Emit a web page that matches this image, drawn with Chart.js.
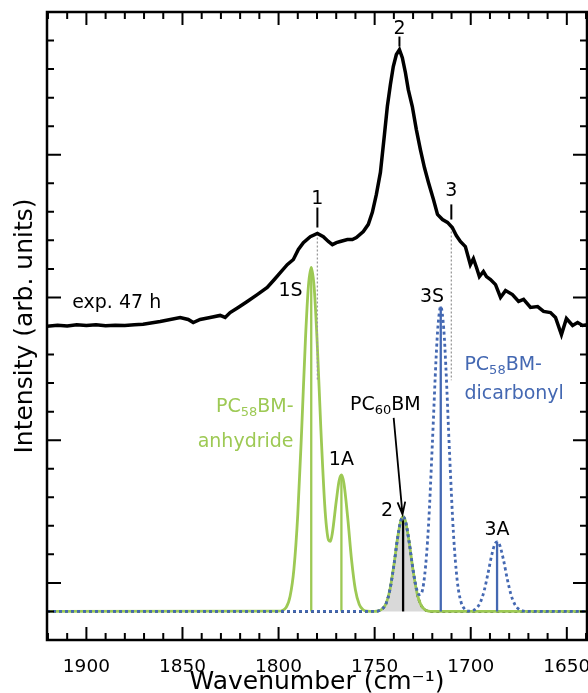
<!DOCTYPE html>
<html>
<head>
<meta charset="utf-8">
<script src="https://cdn.jsdelivr.net/npm/chart.js@4.4.0/dist/chart.umd.min.js"></script>
<style>
  body { margin: 0; background: #fff; }
</style>
</head>
<body>
<canvas id="myChart" width="588" height="693"></canvas>
<script>
// ---- data (wavenumber in cm-1, intensity in arb. units) ----
const xTickLabels = [1900, 1850, 1800, 1750, 1700, 1650];

// measured spectrum, exp. 47 h
const expWave = [1920.5, 1915, 1910, 1905, 1900, 1895, 1890, 1885, 1880, 1875, 1870.5, 1861.6, 1851.2, 1847, 1844.4, 1840.8, 1835.6, 1830.4, 1827.8, 1825.2, 1821, 1816.3, 1811.1, 1805.9, 1802.2, 1799.1, 1795.5, 1792.3, 1789.7, 1787.1, 1783.5, 1779.8, 1776.7, 1774.1, 1772.0, 1769.9, 1767.9, 1764.2, 1761.6, 1759.5, 1755.9, 1753.3, 1751.2, 1749.1, 1747.0, 1744.9, 1743.4, 1741.8, 1740.3, 1738.7, 1737.1, 1735.6, 1734.0, 1732.5, 1730.4, 1728.3, 1726.2, 1724.1, 1722.0, 1719.4, 1717.3, 1714.7, 1712.1, 1709.6, 1707.5, 1705.4, 1702.8, 1700.2, 1698.6, 1697.0, 1695.5, 1693.4, 1691.8, 1689.7, 1687.1, 1684.5, 1681.9, 1678.3, 1675.1, 1672.5, 1668.9, 1665.2, 1662.1, 1658.5, 1655.9, 1652.8, 1650.2, 1647.0, 1644.4, 1641.8, 1639.2];
const expInt = [9.99, 10.03, 10.0, 10.04, 10.02, 10.04, 10.01, 10.03, 10.02, 10.04, 10.06, 10.16, 10.30, 10.23, 10.12, 10.23, 10.30, 10.37, 10.30, 10.47, 10.65, 10.86, 11.10, 11.35, 11.63, 11.87, 12.15, 12.33, 12.68, 12.92, 13.13, 13.24, 13.13, 12.96, 12.85, 12.92, 12.96, 13.03, 13.03, 13.10, 13.31, 13.56, 13.98, 14.61, 15.38, 16.71, 17.69, 18.46, 19.09, 19.51, 19.68, 19.40, 18.88, 18.28, 17.69, 16.88, 16.18, 15.55, 15.03, 14.43, 13.91, 13.73, 13.63, 13.45, 13.17, 12.96, 12.78, 12.15, 12.36, 12.05, 11.73, 11.91, 11.73, 11.63, 11.45, 11.0, 11.24, 11.10, 10.86, 10.93, 10.65, 10.68, 10.51, 10.47, 10.30, 9.70, 10.26, 10.02, 10.12, 10.02, 10.05];

// PC58BM-anhydride model (green)
const anhWave = [1920.5, 1800, 1796, 1794, 1792, 1790, 1788, 1786, 1784.5, 1783, 1781.5, 1780, 1778, 1776, 1775, 1774, 1773, 1772, 1770, 1768.5, 1767.3, 1766, 1764, 1762, 1760, 1758, 1756, 1754, 1750, 1748, 1746, 1744, 1742, 1740, 1738, 1736.5, 1735.2, 1734, 1732, 1730, 1728, 1726, 1724, 1722, 1720, 1639];
const anhInt = [0, 0.01, 0.15, 0.53, 1.49, 3.40, 6.32, 9.55, 11.37, 12.05, 11.37, 9.57, 6.41, 3.75, 2.92, 2.50, 2.46, 2.75, 3.85, 4.58, 4.78, 4.49, 3.27, 1.80, 0.75, 0.24, 0.06, 0.01, 0, 0.02, 0.09, 0.29, 0.78, 1.62, 2.60, 3.15, 3.32, 3.17, 2.41, 1.43, 0.66, 0.24, 0.07, 0.01, 0, 0];
const anhStickWave = [1783, 1767.3];
const anhStickInt = [12.05, 4.76];

// PC58BM-dicarbonyl model (blue, dotted)
const dicWave = [1920.5, 1750, 1748, 1746, 1744, 1742, 1740, 1738, 1736.5, 1735.2, 1734, 1732, 1730, 1728, 1727, 1726, 1724, 1722, 1720, 1718, 1717, 1715.6, 1714, 1713, 1711, 1709, 1707, 1705, 1703, 1701, 1699, 1697, 1695, 1693, 1691, 1689, 1687.5, 1686.3, 1685, 1683, 1681, 1679, 1677, 1675, 1673, 1670, 1639];
const dicInt = [0, 0, 0.02, 0.09, 0.29, 0.78, 1.62, 2.60, 3.15, 3.32, 3.17, 2.41, 1.45, 0.75, 0.59, 0.60, 1.25, 2.98, 5.83, 8.92, 10.04, 10.68, 9.86, 8.65, 5.51, 2.74, 1.06, 0.32, 0.07, 0.01, 0.03, 0.11, 0.32, 0.73, 1.34, 2.00, 2.35, 2.44, 2.34, 1.82, 1.14, 0.58, 0.24, 0.08, 0.02, 0, 0];
const dicStickWave = [1715.6, 1686.3];
const dicStickInt = [10.68, 2.44];

// PC60BM (gray filled)
const pc60Wave = [1920.5, 1750, 1748, 1746, 1744, 1742, 1740, 1738, 1736.5, 1735.2, 1734, 1732, 1730, 1728, 1726, 1724, 1722, 1720, 1639];
const pc60Int = [0, 0, 0.02, 0.09, 0.29, 0.78, 1.62, 2.60, 3.15, 3.32, 3.17, 2.41, 1.43, 0.66, 0.24, 0.07, 0.01, 0, 0];
const pc60StickWave = [1735.2];
const pc60StickInt = [3.32];

// experimental band markers 1, 2, 3
const markText = ['1', '2', '3'];
const markWave = [1779.8, 1737.1, 1710.1];
const markLabelInt = [14.43, 20.41, 14.72];
const markTopInt = [14.15, 20.14, 14.26];
const markBottomInt = [13.45, 19.79, 13.73];
const guideWave = [1779.8, 1710.1];
const guideTopInt = [13.24, 13.45];
const guideBottomInt = [8.1, 8.1];

// peak labels
const annoText = ['1S', '3S', '1A', '2', '3A'];
const annoWave = [1793.8, 1720.1, 1767.3, 1743.6, 1686.3];
const annoInt = [11.24, 11.03, 5.32, 3.51, 2.85];

const GREEN = '#9dc954';
const BLUE = '#4468b2';
const FONT = 'DejaVu Sans';

function toPoints(xs, ys) {
    return xs.map((x, i) => ({x: x, y: ys[i]}));
}

// sticks: one segment from baseline to top for each peak, separated by gaps
function toSticks(xs, ys) {
    let pts = [];
    xs.forEach((x, i) => {
        pts.push({x: x, y: 0}, {x: x, y: ys[i]}, {x: x, y: null});
    });
    return pts;
}

function toSegments(xs, tops, bottoms) {
    let pts = [];
    xs.forEach((x, i) => {
        pts.push({x: x, y: tops[i]}, {x: x, y: bottoms[i]}, {x: x, y: null});
    });
    return pts;
}

// text like PC58BM with a lowered small number
function drawChem(ctx, parts, x, y, align, color) {
    const big = '19px "' + FONT + '"';
    const small = '13px "' + FONT + '"';
    let widths = parts.map((p, i) => {
        ctx.font = (i % 2 === 1) ? small : big;
        return ctx.measureText(p).width;
    });
    let total = widths.reduce((a, b) => a + b, 0);
    let cx = align === 'right' ? x - total : (align === 'center' ? x - total / 2 : x);
    ctx.fillStyle = color;
    ctx.textAlign = 'left';
    ctx.textBaseline = 'middle';
    parts.forEach((p, i) => {
        ctx.font = (i % 2 === 1) ? small : big;
        ctx.fillText(p, cx, (i % 2 === 1) ? y + 5 : y);
        cx += widths[i];
    });
}

const framePlugin = {
    id: 'frame',
    afterDatasetsDraw(chart) {
        const {ctx, chartArea: a, scales: {x, y}} = chart;
        ctx.save();
        ctx.strokeStyle = '#000';
        ctx.lineWidth = 2;
        ctx.beginPath();
        for (let w = 1640; w <= 1920; w += 10) {
            const px = x.getPixelForValue(w);
            const len = (w % 50 === 0) ? 13 : 7;
            ctx.moveTo(px, a.bottom); ctx.lineTo(px, a.bottom - len);
            ctx.moveTo(px, a.top); ctx.lineTo(px, a.top + len);
        }
        for (let v = -1; v <= 21; v++) {
            const py = y.getPixelForValue(v);
            const len = ((v - 1) % 5 === 0) ? 14 : 7;
            ctx.moveTo(a.left, py); ctx.lineTo(a.left + len, py);
            ctx.moveTo(a.right, py); ctx.lineTo(a.right - len, py);
        }
        ctx.stroke();
        ctx.lineWidth = 2.5;
        ctx.strokeRect(a.left, a.top, a.right - a.left, a.bottom - a.top);
        ctx.restore();
    }
};

const labelPlugin = {
    id: 'labels',
    afterDatasetsDraw(chart) {
        const {ctx, scales: {x, y}} = chart;
        ctx.save();
        ctx.textAlign = 'center';
        ctx.textBaseline = 'middle';
        ctx.fillStyle = '#000';
        ctx.strokeStyle = '#000';

        // band markers
        ctx.font = '19px "' + FONT + '"';
        ctx.lineWidth = 2;
        markText.forEach((t, i) => {
            const px = x.getPixelForValue(markWave[i]);
            ctx.fillText(t, px, y.getPixelForValue(markLabelInt[i]));
            ctx.beginPath();
            ctx.moveTo(px, y.getPixelForValue(markTopInt[i]));
            ctx.lineTo(px, y.getPixelForValue(markBottomInt[i]));
            ctx.stroke();
        });

        // peak labels
        annoText.forEach((t, i) => {
            ctx.fillText(t, x.getPixelForValue(annoWave[i]), y.getPixelForValue(annoInt[i]));
        });

        // exp label
        ctx.textAlign = 'left';
        ctx.font = '19px "' + FONT + '"';
        ctx.fillText('exp. 47 h', x.getPixelForValue(1907.4), y.getPixelForValue(10.79));

        // species labels
        drawChem(ctx, ['PC', '58', 'BM-'], x.getPixelForValue(1792.2), y.getPixelForValue(7.15), 'right', GREEN);
        ctx.font = '19px "' + FONT + '"';
        ctx.textAlign = 'right';
        ctx.fillStyle = GREEN;
        ctx.fillText('anhydride', x.getPixelForValue(1792.2), y.getPixelForValue(5.95));

        drawChem(ctx, ['PC', '58', 'BM-'], x.getPixelForValue(1703.3), y.getPixelForValue(8.62), 'left', BLUE);
        ctx.font = '19px "' + FONT + '"';
        ctx.textAlign = 'left';
        ctx.fillStyle = BLUE;
        ctx.fillText('dicarbonyl', x.getPixelForValue(1703.3), y.getPixelForValue(7.60));

        drawChem(ctx, ['PC', '60', 'BM'], x.getPixelForValue(1744.4), y.getPixelForValue(7.22), 'center', '#000');

        // arrow to the PC60BM peak
        const x0 = x.getPixelForValue(1740.1), y0 = y.getPixelForValue(6.78);
        const x1 = x.getPixelForValue(1735.5), y1 = y.getPixelForValue(3.4);
        const ang = Math.atan2(y1 - y0, x1 - x0);
        ctx.strokeStyle = '#000';
        ctx.lineWidth = 1.8;
        ctx.beginPath();
        ctx.moveTo(x0, y0);
        ctx.lineTo(x1, y1);
        ctx.moveTo(x1 - 13 * Math.cos(ang - 0.3), y1 - 13 * Math.sin(ang - 0.3));
        ctx.lineTo(x1, y1);
        ctx.lineTo(x1 - 13 * Math.cos(ang + 0.3), y1 - 13 * Math.sin(ang + 0.3));
        ctx.stroke();
        ctx.restore();
    }
};

const ctx = document.getElementById('myChart');
const myChart = new Chart(ctx, {
    type: 'line',
    data: {
        datasets: [
            {
                // measured spectrum
                data: toPoints(expWave, expInt),
                borderColor: '#000', borderWidth: 3.5, tension: 0, order: 0
            },
            {
                data: toSegments(guideWave, guideTopInt, guideBottomInt),
                borderColor: '#9a9a9a', borderWidth: 1.3, borderDash: [2, 2], spanGaps: false, order: 1
            },
            {
                data: toSticks(dicStickWave, dicStickInt),
                borderColor: BLUE, borderWidth: 2.3, spanGaps: false, order: 2
            },
            {
                data: toPoints(dicWave, dicInt),
                borderColor: BLUE, borderWidth: 2.8, borderDash: [3, 3],
                cubicInterpolationMode: 'monotone', order: 3
            },
            {
                data: toSticks(anhStickWave, anhStickInt),
                borderColor: GREEN, borderWidth: 2.3, spanGaps: false, order: 4
            },
            {
                data: toPoints(anhWave, anhInt),
                borderColor: GREEN, borderWidth: 2.8,
                cubicInterpolationMode: 'monotone', order: 5
            },
            {
                data: toSticks(pc60StickWave, pc60StickInt),
                borderColor: '#000', borderWidth: 2.3, spanGaps: false, order: 6
            },
            {
                data: toPoints(pc60Wave, pc60Int),
                borderColor: '#000', borderWidth: 2.5, borderDash: [3, 3],
                backgroundColor: '#d9d9d9', fill: 'origin',
                cubicInterpolationMode: 'monotone', order: 7
            }
        ]
    },
    options: {
        responsive: false,
        animation: false,
        events: [],
        layout: { padding: { top: 12, right: 1, left: 0, bottom: 0 } },
        elements: { point: { radius: 0 } },
        plugins: { legend: { display: false }, tooltip: { enabled: false } },
        scales: {
            x: {
                type: 'linear',
                reverse: true,
                min: 1639.5,
                max: 1920.5,
                grid: { display: false, drawTicks: false },
                border: { display: false },
                afterBuildTicks: (scale) => {
                    scale.ticks = xTickLabels.map(v => ({value: v}));
                },
                afterFit: (scale) => {
                    scale.height = 53;
                    scale.paddingLeft = 0;
                    scale.paddingRight = 0;
                },
                ticks: {
                    padding: 16,
                    color: '#000',
                    maxRotation: 0,
                    autoSkip: false,
                    font: { family: FONT, size: 18.5 },
                    callback: (v) => String(v)
                },
                title: {
                    display: true,
                    text: 'Wavenumber (cm\u207B\u00B9)',
                    color: '#000',
                    font: { family: FONT, size: 25, lineHeight: 0.88 },
                    padding: { top: 0, bottom: 0 }
                }
            },
            y: {
                min: -1,
                max: 21,
                grid: { display: false, drawTicks: false },
                border: { display: false },
                ticks: { display: false },
                afterFit: (scale) => { scale.width = 47; },
                title: {
                    display: true,
                    text: 'Intensity (arb. units)',
                    color: '#000',
                    font: { family: FONT, size: 25, lineHeight: 0.88 },
                    padding: { top: 14, bottom: 0 }
                }
            }
        }
    },
    plugins: [framePlugin, labelPlugin]
});
</script>
</body>
</html>
